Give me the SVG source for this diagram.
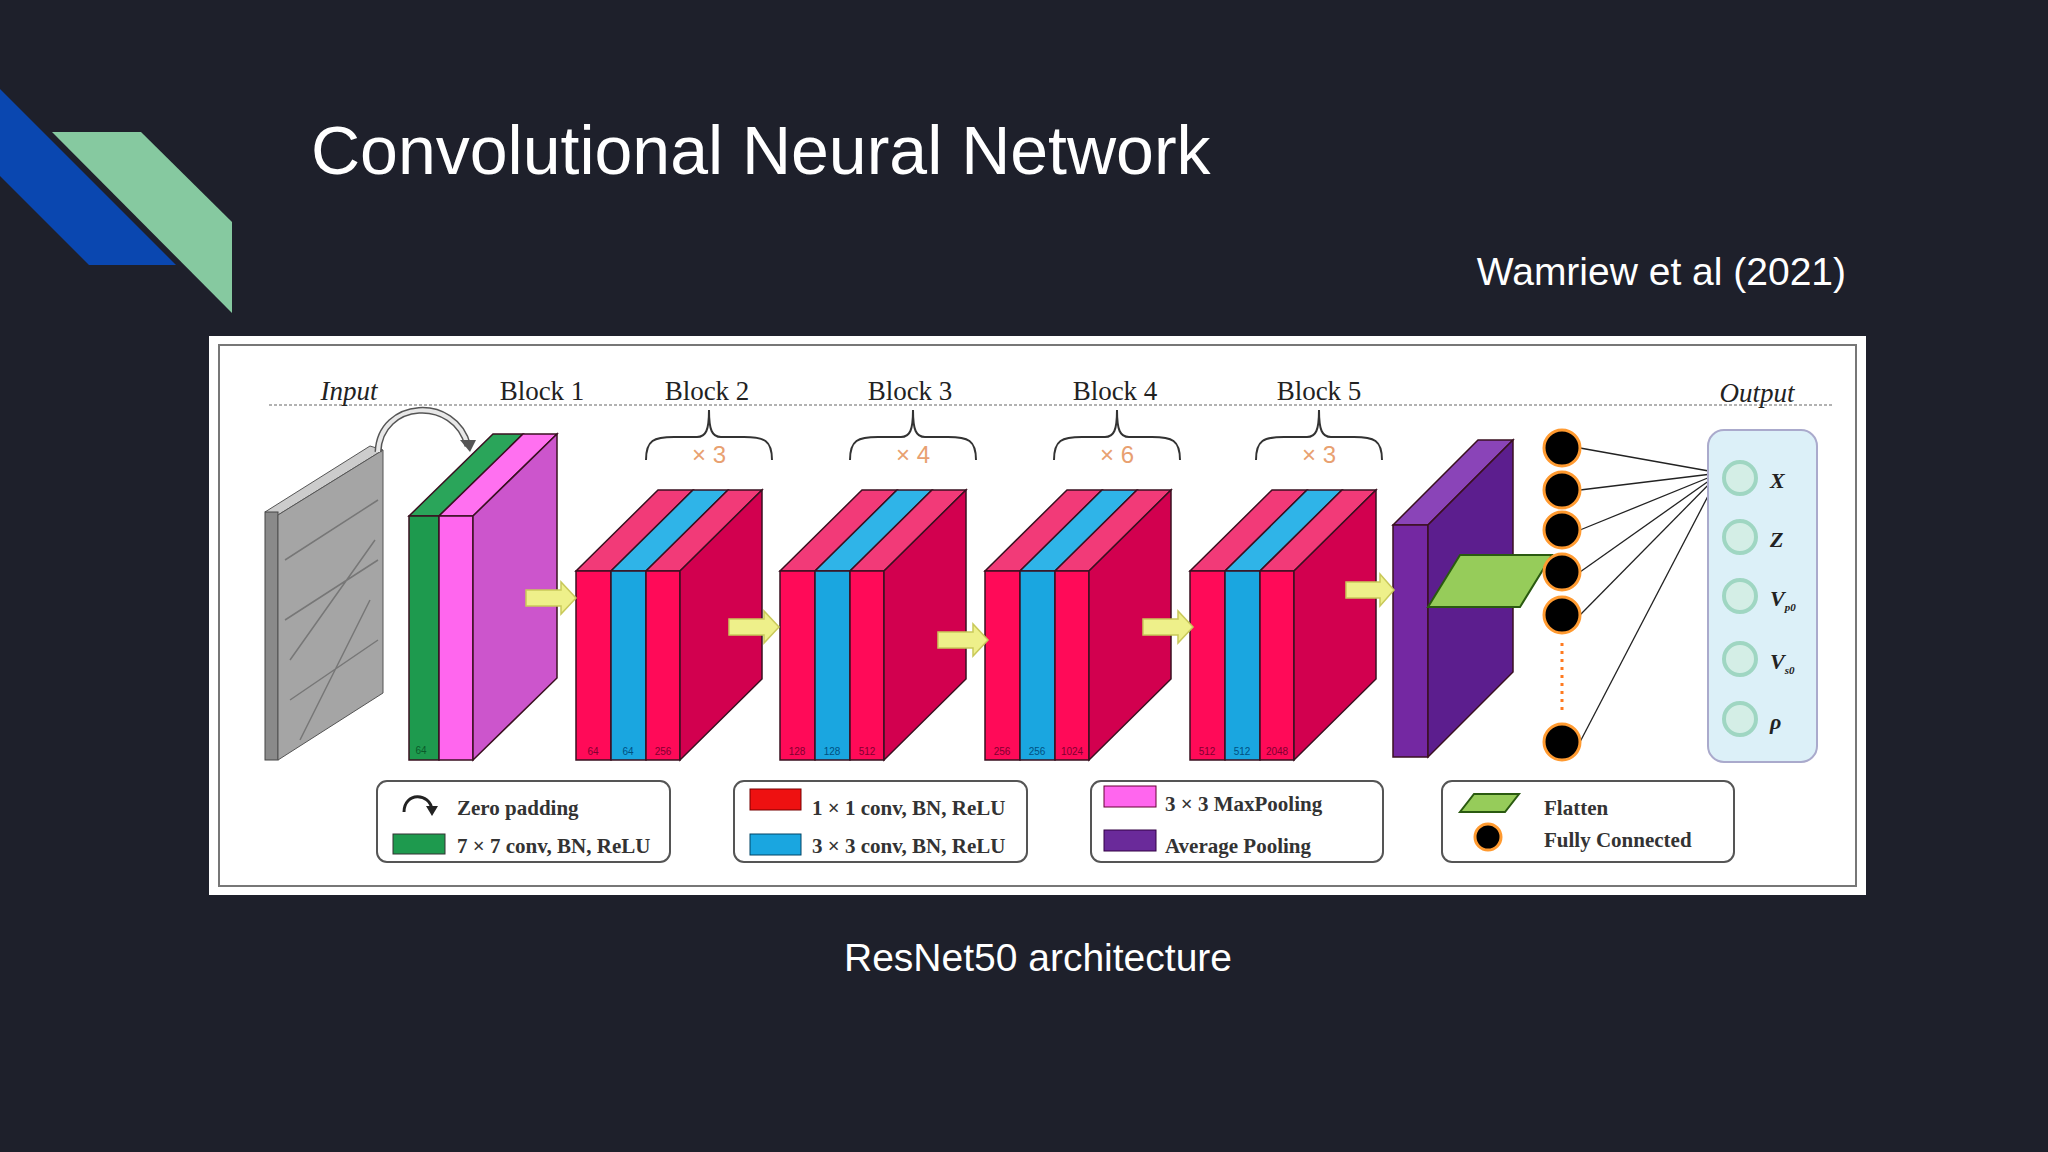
<svg xmlns="http://www.w3.org/2000/svg" width="2048" height="1152" viewBox="0 0 2048 1152">
<style>
.ser{font-family:"Liberation Serif",serif;fill:#222}
.lbl{font-size:27px;text-anchor:middle}
.leg{font-size:21px;font-weight:bold;fill:#333}
.num{font-size:10px;font-family:"Liberation Sans",sans-serif;text-anchor:middle}
.e{stroke:#3a1020;stroke-width:1.5}
.arw{fill:#eef08a;stroke:#c9c95a;stroke-width:1.5}
.brace{fill:none;stroke:#333;stroke-width:2}
.times{font-family:"Liberation Sans",sans-serif;font-size:24px;fill:#e8a070;text-anchor:middle}
.fc{fill:#000;stroke:#ff9a30;stroke-width:3}
.oc{fill:#d4eee6;stroke:#9fd6c2;stroke-width:4}
.conn{stroke:#222;stroke-width:1.3}
.legbox{fill:#fff;stroke:#555;stroke-width:2}
</style>
<defs>
<g id="resblock">
<polygon class="e" points="0,0 35,0 117,-81 82,-81" fill="#f23a78"/>
<polygon class="e" points="35,0 70,0 152,-81 117,-81" fill="#2fb4e8"/>
<polygon class="e" points="70,0 104,0 186,-81 152,-81" fill="#f23a78"/>
<rect class="e" x="0" y="0" width="35" height="189" fill="#ff0a58"/>
<rect class="e" x="35" y="0" width="35" height="189" fill="#1aa6e0"/>
<rect class="e" x="70" y="0" width="34" height="189" fill="#ff0a58"/>
<polygon class="e" points="104,0 186,-81 186,108 104,189" fill="#d2004f"/>
</g>
<path id="brace" class="brace" d="M-63,55 C-63,35 -55,32 -35,32 L-12,32 C-3,32 0,25 0,5 C0,25 3,32 12,32 L35,32 C55,32 63,35 63,55"/>
</defs>
<rect width="2048" height="1152" fill="#1e202b"/>
<polygon points="0,89 176,265 89,265 0,176" fill="#0a47b0"/>
<polygon points="52,132 141,132 232,222 232,313" fill="#86c9a0"/>
<text x="311" y="174" font-family="Liberation Sans, sans-serif" font-size="68" fill="#fff">Convolutional Neural Network</text>
<text x="1846" y="285" font-family="Liberation Sans, sans-serif" font-size="39" fill="#fff" text-anchor="end">Wamriew et al (2021)</text>
<text x="1038" y="971" font-family="Liberation Sans, sans-serif" font-size="39" fill="#fff" text-anchor="middle">ResNet50 architecture</text>

<g id="panel">
<rect x="209" y="336" width="1657" height="559" fill="#fff"/>
<rect x="219" y="345" width="1637" height="541" fill="none" stroke="#777" stroke-width="2"/>
<line x1="269" y1="405" x2="1834" y2="405" stroke="#999" stroke-width="1.5" stroke-dasharray="3,2"/>
<g class="ser lbl">
<text x="349" y="400" font-style="italic">Input</text>
<text x="542" y="400">Block 1</text>
<text x="707" y="400">Block 2</text>
<text x="910" y="400">Block 3</text>
<text x="1115" y="400">Block 4</text>
<text x="1319" y="400">Block 5</text>
<text x="1757" y="402" font-style="italic">Output</text>
</g>
</g>

<g id="braces">
<use href="#brace" x="709" y="405"/><text class="times" x="709" y="463">× 3</text>
<use href="#brace" x="913" y="405"/><text class="times" x="913" y="463">× 4</text>
<use href="#brace" x="1117" y="405"/><text class="times" x="1117" y="463">× 6</text>
<use href="#brace" x="1319" y="405"/><text class="times" x="1319" y="463">× 3</text>
</g>

<g id="input">
<polygon points="265,512 370,446 383,450 278,515" fill="#ccc" stroke="#555"/>
<rect x="265" y="512" width="13" height="248" fill="#8a8a8a" stroke="#444"/>
<polygon points="278,515 383,450 383,693 278,760" fill="#a5a5a5" stroke="#555"/>
<path d="M285,560 L378,500 M285,620 L378,560 M290,700 L378,640 M300,740 L370,600 M290,660 L375,540" stroke="#777" stroke-width="1.5" fill="none"/>
</g>

<g id="block1">
<polygon class="e" points="409,516 439,516 523,434 493,434" fill="#2aa55a"/>
<polygon class="e" points="439,516 473,516 557,434 523,434" fill="#ff70f0"/>
<rect class="e" x="409" y="516" width="30" height="244" fill="#1e9a4e"/>
<rect class="e" x="439" y="516" width="34" height="244" fill="#ff66ee"/>
<polygon class="e" points="473,516 557,434 557,678 473,760" fill="#cc55cc"/>
<text class="num" x="421" y="754" fill="#0a5a2a">64</text>
</g>

<g id="block2"><use href="#resblock" x="576" y="571"/>
<text class="num" x="593" y="755" fill="#800030">64</text><text class="num" x="628" y="755" fill="#005080">64</text><text class="num" x="663" y="755" fill="#800030">256</text></g>
<g id="block3"><use href="#resblock" x="780" y="571"/>
<text class="num" x="797" y="755" fill="#800030">128</text><text class="num" x="832" y="755" fill="#005080">128</text><text class="num" x="867" y="755" fill="#800030">512</text></g>
<g id="block4"><use href="#resblock" x="985" y="571"/>
<text class="num" x="1002" y="755" fill="#800030">256</text><text class="num" x="1037" y="755" fill="#005080">256</text><text class="num" x="1072" y="755" fill="#800030">1024</text></g>
<g id="block5"><use href="#resblock" x="1190" y="571"/>
<text class="num" x="1207" y="755" fill="#800030">512</text><text class="num" x="1242" y="755" fill="#005080">512</text><text class="num" x="1277" y="755" fill="#800030">2048</text></g>

<g id="avgpool">
<polygon class="e" points="1393,525 1428,525 1513,440 1478,440" fill="#8a44b8"/>
<rect class="e" x="1393" y="525" width="35" height="232" fill="#7428a2"/>
<polygon class="e" points="1428,525 1513,440 1513,672 1428,757" fill="#5c1e8e"/>
</g>
<g id="flatten">
<polygon points="1428,607 1520,607 1552,555 1460,555" fill="#96cc5a" stroke="#2a5a10" stroke-width="2"/>
</g>

<g id="connectors">
<path d="M378,452 C380,400 455,395 468,446" fill="none" stroke="#555" stroke-width="7"/>
<path d="M378,452 C380,400 455,395 468,446" fill="none" stroke="#e8e8e8" stroke-width="4"/>
<polygon points="460,440 476,440 470,452" fill="#555"/>
<polygon class="arw" points="526,590 561,590 561,582 576,598 561,614 561,606 526,606"/>
<polygon class="arw" points="729,619 764,619 764,611 779,627 764,643 764,635 729,635"/>
<polygon class="arw" points="938,632 973,632 973,624 988,640 973,656 973,648 938,648"/>
<polygon class="arw" points="1143,619 1178,619 1178,611 1193,627 1178,643 1178,635 1143,635"/>
<polygon class="arw" points="1346,582 1380,582 1380,574 1394,590 1380,606 1380,598 1346,598"/>
<g class="conn">
<line x1="1580" y1="448" x2="1720" y2="473"/>
<line x1="1580" y1="490" x2="1720" y2="473"/>
<line x1="1580" y1="530" x2="1720" y2="473"/>
<line x1="1580" y1="572" x2="1720" y2="473"/>
<line x1="1580" y1="615" x2="1720" y2="473"/>
<line x1="1580" y1="742" x2="1720" y2="473"/>
</g>
<line x1="1562" y1="643" x2="1562" y2="712" stroke="#ff7a20" stroke-width="3" stroke-dasharray="3,5"/>
</g>

<g id="fc">
<circle class="fc" cx="1562" cy="448" r="18"/>
<circle class="fc" cx="1562" cy="490" r="18"/>
<circle class="fc" cx="1562" cy="530" r="18"/>
<circle class="fc" cx="1562" cy="572" r="18"/>
<circle class="fc" cx="1562" cy="615" r="18"/>
<circle class="fc" cx="1562" cy="742" r="18"/>
</g>

<g id="output">
<rect x="1708" y="430" width="109" height="332" rx="16" fill="#dcf0f8" stroke="#aac" stroke-width="2"/>
<circle class="oc" cx="1740" cy="478" r="16"/>
<circle class="oc" cx="1740" cy="537" r="16"/>
<circle class="oc" cx="1740" cy="596" r="16"/>
<circle class="oc" cx="1740" cy="659" r="16"/>
<circle class="oc" cx="1740" cy="719" r="16"/>
<g class="ser" font-size="22" font-style="italic" font-weight="bold">
<text x="1770" y="488">X</text>
<text x="1770" y="547">Z</text>
<text x="1770" y="606">V<tspan font-size="11" dy="5">p0</tspan></text>
<text x="1770" y="669">V<tspan font-size="11" dy="5">s0</tspan></text>
<text x="1770" y="729">ρ</text>
</g>
</g>

<g id="legend1">
<rect class="legbox" x="377" y="781" width="293" height="81" rx="10"/>
<path d="M404,812 C404,792 430,792 432,810" fill="none" stroke="#222" stroke-width="3"/>
<polygon points="426,806 438,806 432,816" fill="#222"/>
<rect x="393" y="834" width="52" height="20" fill="#1e9a4e" stroke="#333"/>
<text class="ser leg" x="457" y="815">Zero padding</text>
<text class="ser leg" x="457" y="853">7 × 7 conv, BN, ReLU</text>
</g>
<g id="legend2">
<rect class="legbox" x="734" y="781" width="293" height="81" rx="10"/>
<rect x="750" y="789" width="51" height="21" fill="#ee1111" stroke="#700"/>
<rect x="750" y="834" width="51" height="21" fill="#1aa6e0" stroke="#046"/>
<text class="ser leg" x="812" y="815">1 × 1 conv, BN, ReLU</text>
<text class="ser leg" x="812" y="853">3 × 3  conv, BN, ReLU</text>
</g>
<g id="legend3">
<rect class="legbox" x="1091" y="781" width="292" height="81" rx="10"/>
<rect x="1104" y="786" width="52" height="21" fill="#ff66ee" stroke="#603"/>
<rect x="1104" y="830" width="52" height="21" fill="#6a2a9a" stroke="#304"/>
<text class="ser leg" x="1165" y="811">3 × 3 MaxPooling</text>
<text class="ser leg" x="1165" y="853">Average Pooling</text>
</g>
<g id="legend4">
<rect class="legbox" x="1442" y="781" width="292" height="81" rx="10"/>
<polygon points="1460,812 1505,812 1519,794 1474,794" fill="#96cc5a" stroke="#2a5a10" stroke-width="2"/>
<circle class="fc" cx="1488" cy="837" r="13"/>
<text class="ser leg" x="1544" y="815">Flatten</text>
<text class="ser leg" x="1544" y="847">Fully Connected</text>
</g>
</svg>
